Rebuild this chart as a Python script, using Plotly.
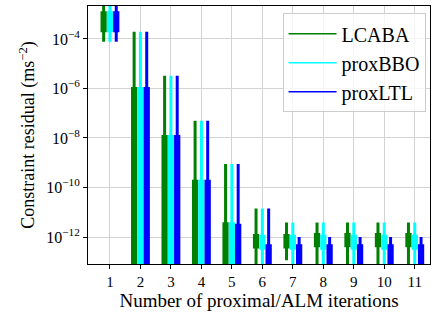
import plotly.graph_objects as go

categories = [1, 2, 3, 4, 5, 6, 7, 8, 9, 10, 11]
series_names = ["LCABA", "proxBBO", "proxLTL"]
series_colors = ["#008000", "#00ffff", "#0000ff"]

# log10 of the statistics
lcaba_low = [-4.11, -16, -16, -16, -16, -13.5, -12.94, -13.5, -13.5, -13.5, -13.5]
lcaba_q1 = [-3.67, -15, -15, -15, -14, -12.4, -12.4, -12.35, -12.35, -12.35, -12.35]
lcaba_med = [-3.2, -7.4, -10.1, -12.0, -12.0, -12.15, -12.15, -12.1, -12.1, -12.1, -12.1]
lcaba_q3 = [-2.94, -6.0, -7.94, -9.75, -11.46, -11.94, -11.94, -11.9, -11.9, -11.9, -11.9]
lcaba_high = [-2.2, -3.71, -5.49, -7.3, -9.05, -10.85, -11.41, -11.41, -11.41, -11.41, -11.41]

bbo_low = [-4.11, -16, -16, -16, -16, -13.5, -13.5, -13.5, -13.5, -13.5, -13.5]
bbo_q1 = [-3.67, -15, -15, -15, -14, -12.45, -12.45, -12.45, -12.45, -12.45, -12.45]
bbo_med = [-3.2, -7.4, -10.1, -12.0, -12.0, -12.2, -12.2, -12.2, -12.2, -12.2, -12.2]
bbo_q3 = [-2.94, -6.0, -7.94, -9.75, -11.46, -11.97, -11.97, -11.97, -11.97, -11.97, -11.97]
bbo_high = [-2.2, -3.71, -5.49, -7.3, -9.05, -10.85, -11.41, -11.41, -11.41, -11.41, -11.41]

ltl_low = [-4.11, -16, -16, -16, -16, -16, -16, -16, -16, -16, -16]
ltl_q1 = [-3.67, -15, -15, -15, -14, -14, -14, -14, -14, -14, -14]
ltl_med = [-3.2, -7.4, -10.1, -12.0, -12.58, -12.7, -12.7, -12.7, -12.7, -12.7, -12.7]
ltl_q3 = [-2.94, -6.0, -7.94, -9.75, -11.53, -12.35, -12.35, -12.35, -12.35, -12.35, -12.35]
ltl_high = [-2.2, -3.71, -5.49, -7.3, -9.05, -10.85, -12.0, -12.0, -12.0, -12.0, -12.0]

y_tick_exponents = [-12, -10, -8, -6, -4]

stats = [
    (lcaba_low, lcaba_q1, lcaba_med, lcaba_q3, lcaba_high),
    (bbo_low, bbo_q1, bbo_med, bbo_q3, bbo_high),
    (ltl_low, ltl_q1, ltl_med, ltl_q3, ltl_high),
]

def lin(arr):
    return [10 ** v for v in arr]

FONT = "Liberation Serif"
fig = go.Figure()
for name, color, (lo, q1, med, q3, hi) in zip(series_names, series_colors, stats):
    fig.add_trace(go.Box(
        x=categories, lowerfence=lin(lo), q1=lin(q1), median=lin(med),
        q3=lin(q3), upperfence=lin(hi), name=name,
        fillcolor=color, line=dict(color=color, width=3),
        whiskerwidth=0, showlegend=False, boxpoints=False,
    ))
for i, (name, color) in enumerate(zip(series_names, series_colors)):
    fig.add_trace(go.Scatter(
        x=[None], y=[None], mode="lines", name=name,
        line=dict(color=color, width=1.5), legendgroup=f"g{i}",
    ))

fig.update_layout(
    width=435, height=314,
    margin=dict(l=88, r=5, t=6, b=50),
    paper_bgcolor="white", plot_bgcolor="white",
    font=dict(family=FONT, size=19, color="black"),
    boxmode="group", boxgap=0.38, boxgroupgap=0.48,
    legend=dict(
        x=0.987, y=0.972, xanchor="right", yanchor="top",
        bgcolor="rgba(255,255,255,0.8)", bordercolor="#cccccc", borderwidth=1,
        font=dict(family=FONT, size=20), tracegroupgap=0, itemwidth=48,
    ),
    showlegend=True,
)
fig.update_xaxes(
    range=[0.28, 11.5], tickvals=categories, ticktext=[str(c) for c in categories],
    tickfont=dict(size=15),
    showgrid=True, gridcolor="#d3d3d3", gridwidth=1,
    showline=True, linecolor="black", linewidth=1, mirror=True,
    ticks="outside", ticklen=4, tickcolor="black",
    title=dict(text="Number of proximal/ALM iterations", font=dict(size=19), standoff=4),
    zeroline=False,
)
fig.update_yaxes(
    type="log", range=[-13.09, -2.67],
    tickvals=[10 ** e for e in y_tick_exponents],
    ticktext=[f"10<sup>\u2212{-e}</sup>" for e in y_tick_exponents],
    tickfont=dict(size=16),
    showgrid=True, gridcolor="#d3d3d3", gridwidth=1,
    showline=True, linecolor="black", linewidth=1, mirror=True,
    ticks="outside", ticklen=4, tickcolor="black",
    title=dict(text="Constraint residual (ms<sup>\u22122</sup>)", font=dict(size=18), standoff=6),
    zeroline=False,
)
fig.write_html("out.html", config={"displayModeBar": False},
               post_script="document.body.style.margin='0';")
